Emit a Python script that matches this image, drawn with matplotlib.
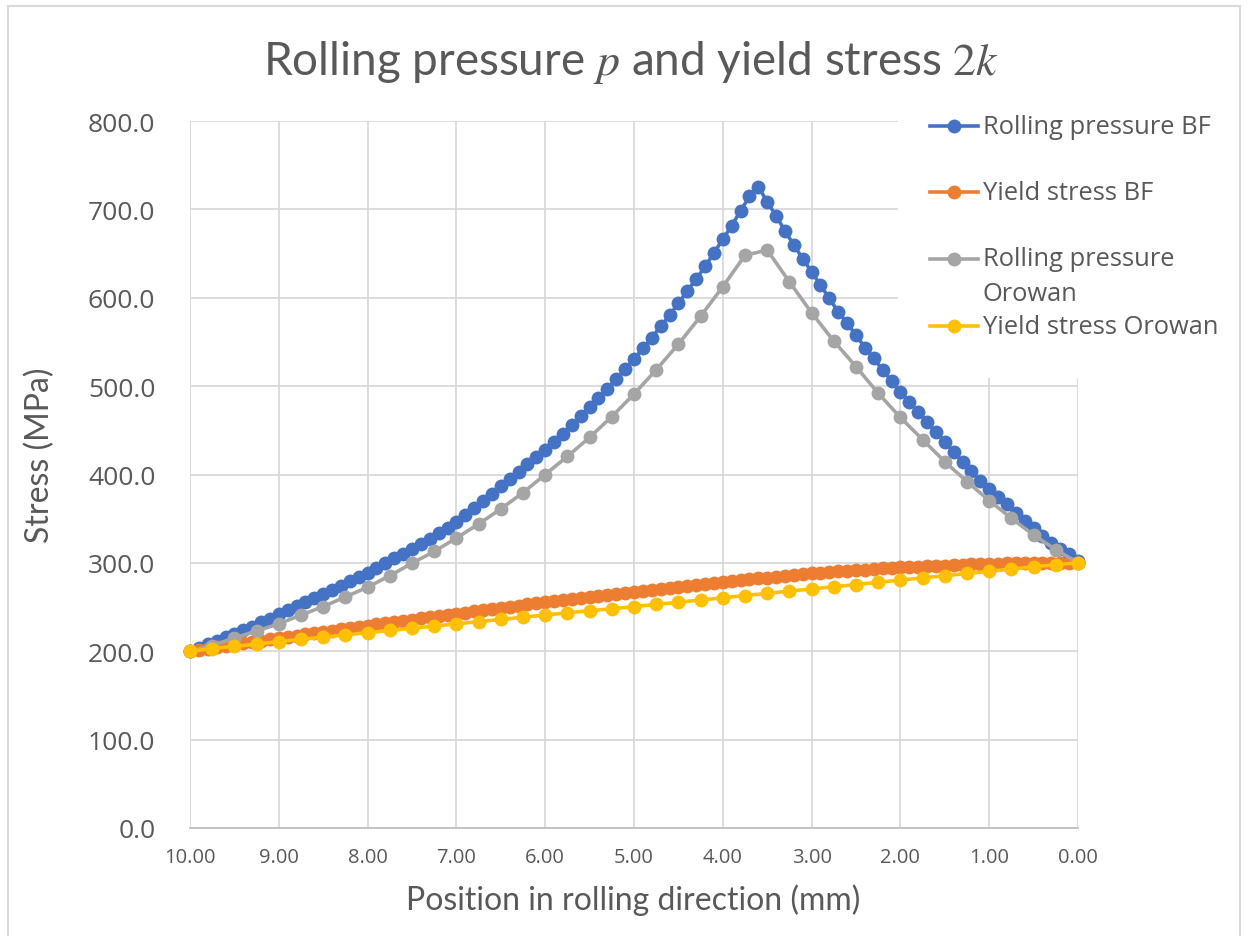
import numpy as np
import matplotlib
matplotlib.use('Agg')
import matplotlib.pyplot as plt
from matplotlib.lines import Line2D
from matplotlib.patches import Rectangle

plt.rcParams['mathtext.fontset'] = 'stix'

# Bland-Ford (BF) solution, 0.1 mm steps from 10.0 down to 0.0
x_bf = np.linspace(10, 0, 101)
p_bf = [200.0, 204.0, 208.0, 212.0, 216.0, 220.0, 224.0, 228.0, 233.0, 237.0,
        242.0, 246.5, 251.0, 255.5, 260.0, 264.5, 269.0, 274.0, 279.0, 284.0,
        289.0, 294.0, 299.5, 305.0, 310.5, 316.0, 321.5, 327.5, 333.5, 339.5,
        346.0, 354.0, 362.0, 370.0, 378.0, 387.0, 395.0, 403.0, 411.5, 419.5,
        427.5, 436.3, 445.7, 455.9, 465.7, 475.9, 486.0, 496.6, 507.9, 519.2,
        530.5, 542.6, 555.0, 567.5, 580.3, 593.5, 607.8, 621.0, 635.4, 650.5,
        666.3, 681.4, 698.4, 714.6, 725.8, 708.5, 692.7, 675.7, 659.5, 644.4,
        629.3, 614.3, 599.2, 584.0, 571.3, 557.7, 543.7, 531.3, 518.5, 506.0,
        493.6, 482.3, 471.0, 459.7, 447.6, 437.0, 425.7, 414.4, 404.2, 392.9,
        383.5, 374.0, 366.5, 357.0, 347.6, 339.0, 330.7, 322.4, 315.6, 310.0,
        302.0]
k_bf = [200.0, 201.5, 203.0, 204.5, 206.0, 207.5, 209.0, 210.5, 212.0, 213.5,
        215.0, 216.4, 217.8, 219.2, 220.6, 222.0, 223.4, 224.8, 226.2, 227.6,
        229.0, 230.4, 231.7, 233.1, 234.4, 235.8, 237.1, 238.5, 239.8, 241.2,
        242.5, 243.8, 245.1, 246.4, 247.7, 249.0, 250.3, 251.6, 252.9, 254.2,
        255.5, 256.7, 257.9, 259.0, 260.2, 261.3, 262.4, 263.6, 264.7, 265.9,
        267.0, 268.2, 269.4, 270.5, 271.7, 272.8, 273.9, 275.1, 276.2, 277.4,
        278.5, 279.5, 280.5, 281.5, 282.5, 283.4, 284.3, 285.2, 286.1, 287.0,
        288.0, 288.8, 289.6, 290.3, 291.0, 291.7, 292.4, 293.0, 293.7, 294.4,
        295.0, 295.4, 295.8, 296.2, 296.6, 297.0, 297.4, 297.8, 298.2, 298.6,
        299.0, 299.2, 299.4, 299.5, 299.6, 299.7, 299.8, 299.9, 300.0, 300.0,
        300.0]

# Orowan solution, 0.25 mm steps
x_or = np.linspace(10, 0, 41)
p_or = [200.0, 206.5, 215.0, 223.0, 231.0, 241.0, 250.5, 261.5, 272.5, 285.5,
        299.5, 313.0, 328.0, 344.0, 361.0, 379.5, 400.0, 420.5, 442.0, 465.5,
        491.0, 518.5, 547.5, 579.0, 612.5, 648.0, 654.0, 618.0, 583.0, 551.0,
        522.0, 492.0, 464.5, 439.5, 414.5, 392.0, 370.5, 350.5, 331.5, 315.0,
        300.0]
k_or = [200.0, 203.0, 205.5, 208.0, 211.0, 213.5, 216.0, 218.5, 221.0, 223.5,
        226.0, 228.5, 231.0, 233.5, 236.0, 238.5, 241.0, 243.5, 246.0, 248.0,
        250.5, 253.0, 255.5, 258.0, 260.5, 263.0, 265.5, 268.0, 270.5, 273.0,
        275.5, 278.0, 280.5, 283.0, 285.5, 288.0, 290.5, 293.0, 295.5, 298.0,
        300.0]

labels = ['Rolling pressure BF', 'Yield stress BF',
          'Rolling pressure\nOrowan', 'Yield stress Orowan']
colors = ['#4472C4', '#ED7D31', '#A5A5A5', '#FFC000']
series = [(x_bf, p_bf), (x_bf, k_bf), (x_or, p_or), (x_or, k_or)]

W, H = 1252, 937
txt = '#595959'
fig = plt.figure(figsize=(W / 100, H / 100), dpi=100)
ax = fig.add_axes([190 / W, 1 - 829 / H, 888 / W, 707 / H])

for i, (xs, ys) in enumerate(series):
    ax.plot(xs, ys, color=colors[i], lw=2.6, marker='o', ms=10,
            markeredgewidth=0, zorder=4 + i, clip_on=False)

ax.set_xlim(10, 0)
ax.set_ylim(0, 800)
ax.set_xticks(range(0, 11))
ax.set_xticklabels(['%.2f' % v for v in range(0, 11)])
ax.set_yticks(range(0, 801, 100))
ax.set_yticklabels(['%.1f' % v for v in range(0, 801, 100)])
ax.grid(True, color='#d9d9d9', lw=1.3, zorder=0)
ax.set_axisbelow(True)
for s in ['top', 'right', 'left']:
    ax.spines[s].set_visible(False)
ax.spines['bottom'].set_color('#bfbfbf')
ax.spines['bottom'].set_linewidth(1.3)
ax.tick_params(length=0, colors=txt)
ax.tick_params(axis='y', pad=25, labelsize=19)
ax.tick_params(axis='x', pad=14, labelsize=14.5)
for t in ax.get_xticklabels() + ax.get_yticklabels():
    t.set_fontfamily('Open Sans')

# white legend area covering the gridlines in the upper right
ax.add_patch(Rectangle(((898 - 190) / 888, (829 - 379) / 707),
                       0.3, 0.5, transform=ax.transAxes, facecolor='white',
                       edgecolor='none', zorder=3, clip_on=False))

# legend
leg_y = [127, 193, 260, 327]
for lab, c, yp in zip(labels, colors, leg_y):
    yf = 1 - yp / H
    fig.add_artist(Line2D([930 / W, 978 / W], [yf, yf], color=c, lw=2.6,
                          transform=fig.transFigure, zorder=10))
    fig.add_artist(Line2D([954 / W], [yf], color=c, marker='o', ms=10,
                          markeredgewidth=0, transform=fig.transFigure, zorder=10))
    for j, line in enumerate(lab.split('\n')):
        fig.text(983 / W, 1 - (yp + 35 * j) / H, line, fontsize=18.4,
                 family='Open Sans', color=txt, va='center', ha='left')

fig.text(0.504, 1 - 62 / H, r'Rolling pressure $p$ and yield stress $\mathit{2k}$',
         fontsize=33, family='Lato', color=txt, ha='center', va='center')
fig.text(0.5056, 1 - 900 / H, 'Position in rolling direction (mm)',
         fontsize=23, family='Lato', color=txt, ha='center', va='center')
fig.text(40 / W, 1 - 455 / H, 'Stress (MPa)', rotation=90,
         fontsize=23, family='Lato', color=txt, ha='center', va='center')

# chart border
fr = '#d9d9d9'
fig.add_artist(Line2D([8 / W, 1240 / W], [1 - 7 / H, 1 - 7 / H], color=fr, lw=1.5,
                      transform=fig.transFigure))
fig.add_artist(Line2D([8 / W, 8 / W], [0, 1 - 7 / H], color=fr, lw=1.5,
                      transform=fig.transFigure))
fig.add_artist(Line2D([1240 / W, 1240 / W], [0, 1 - 7 / H], color=fr, lw=1.5,
                      transform=fig.transFigure))

fig.savefig('out.png', dpi=100, facecolor='white')
